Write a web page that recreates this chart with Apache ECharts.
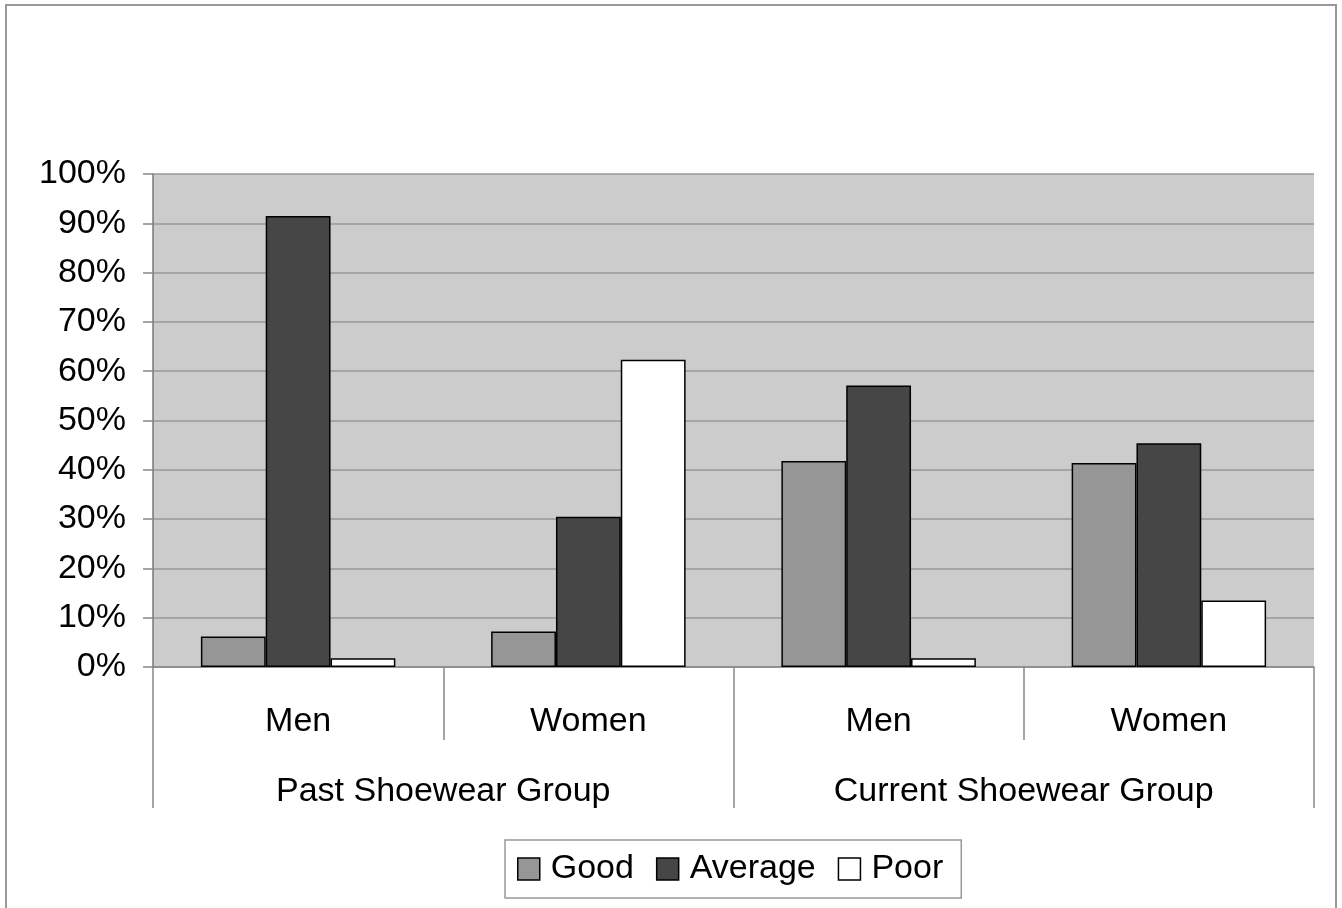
<!DOCTYPE html>
<html>
<head>
<meta charset="utf-8">
<script src="https://cdn.jsdelivr.net/npm/echarts@6/dist/echarts.min.js"></script>
<style>
html,body{margin:0;padding:0;background:#fff;}
#chart{width:1342px;height:908px;}
</style>
</head>
<body>
<div id="chart"></div>
<script>
var categories = ['Men', 'Women', 'Men', 'Women'];
var groups = ['Past Shoewear Group', 'Current Shoewear Group'];
var seriesNames = ['Good', 'Average', 'Poor'];
var good = [6.2, 7.2, 41.8, 41.4];
var average = [91.5, 30.5, 57.1, 45.4];
var poor = [1.8, 62.3, 1.8, 13.5];
var colors = ['#969696', '#464646', '#ffffff'];

var FONT = 'Liberation Sans, Arial, sans-serif';
var chart = echarts.init(document.getElementById('chart'));
var data = [good, average, poor];

chart.setOption({
  animation: false,
  backgroundColor: '#ffffff',
  graphic: [{
    type: 'rect',
    shape: { x: 6, y: 5, width: 1330, height: 920 },
    style: { fill: 'none', stroke: '#999999', lineWidth: 2 },
    silent: true
  }],
  grid: {
    left: 153, right: 28, top: 174, bottom: 241,
    show: true, backgroundColor: '#cccccc', borderWidth: 0
  },
  legend: {
    left: 505, top: 840,
    data: seriesNames,
    orient: 'horizontal',
    icon: 'rect',
    itemWidth: 22, itemHeight: 22, itemGap: 22,
    padding: [12, 18, 12, 12],
    borderColor: '#999999', borderWidth: 1.5,
    textStyle: { fontFamily: FONT, fontSize: 34, color: '#000', padding: [0, 0, 0, 6] },
    itemStyle: { borderColor: '#000', borderWidth: 1.5 }
  },
  xAxis: [{
    type: 'category',
    data: categories,
    position: 'bottom',
    axisLine: { show: true, lineStyle: { color: '#888888', width: 1.5 } },
    axisTick: { show: true, interval: 0, length: 73, lineStyle: { color: '#888888', width: 1.5 } },
    axisLabel: { interval: 0, margin: 38, fontFamily: FONT, fontSize: 34, color: '#000' },
    splitLine: { show: false }
  }, {
    type: 'category',
    data: groups,
    position: 'bottom',
    axisLine: { show: false },
    axisTick: { show: true, interval: 0, length: 141, lineStyle: { color: '#888888', width: 1.5 } },
    axisLabel: { interval: 0, margin: 108, fontFamily: FONT, fontSize: 34, color: '#000' },
    splitLine: { show: false }
  }],
  yAxis: {
    type: 'value',
    min: 0, max: 100, interval: 10,
    axisLine: { show: true, lineStyle: { color: '#777777', width: 1.5 } },
    axisTick: { show: true, length: 10, lineStyle: { color: '#888888', width: 1.5 } },
    axisLabel: { formatter: '{value}%', margin: 27, padding: [8, 0, 0, 0], fontFamily: FONT, fontSize: 34, color: '#000' },
    splitLine: { show: true, lineStyle: { color: '#999999', width: 1.5 } }
  },
  series: seriesNames.map(function (name, i) {
    return {
      name: name,
      type: 'bar',
      xAxisIndex: 0,
      data: data[i],
      barGap: '0%',
      barCategoryGap: '33%',
      itemStyle: { color: colors[i], borderColor: '#000000', borderWidth: 1.5 }
    };
  })
});
</script>
</body>
</html>
